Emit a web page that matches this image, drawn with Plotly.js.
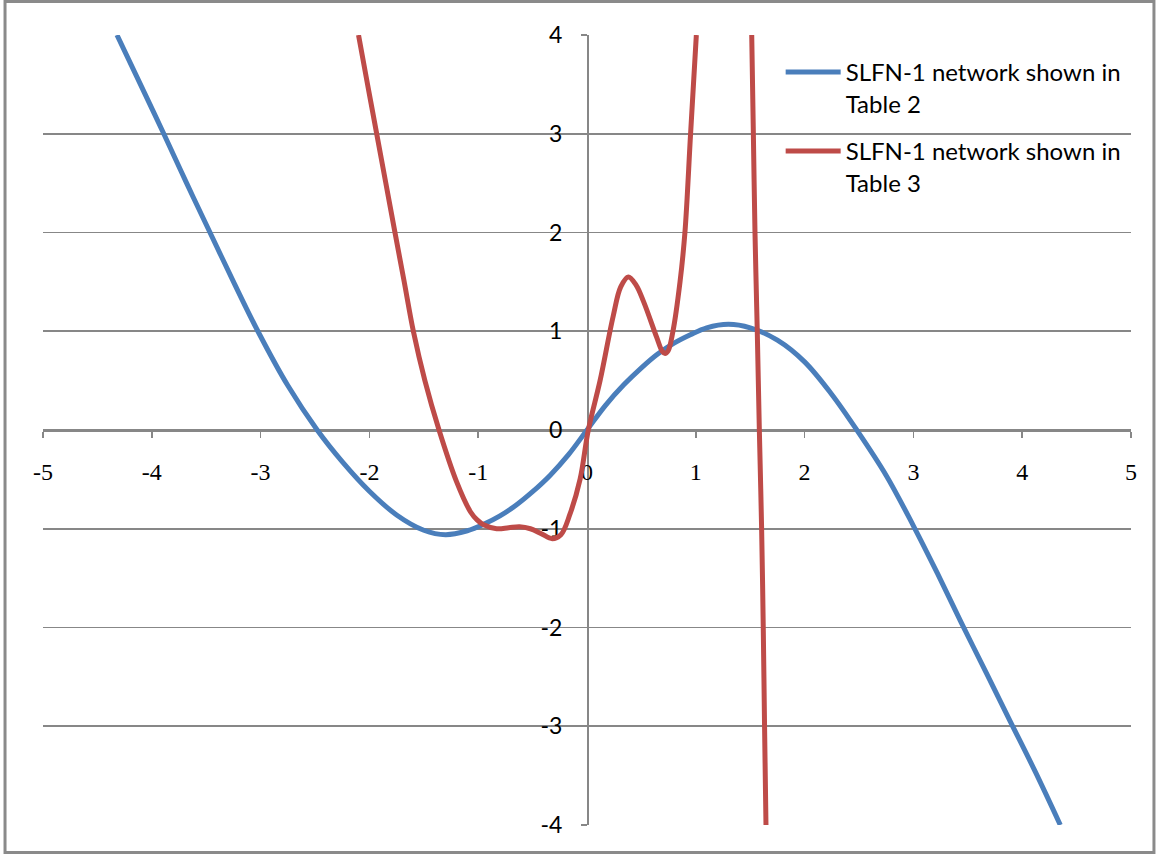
<!DOCTYPE html>
<html>
<head>
<meta charset="utf-8">
<script src="https://cdn.plot.ly/plotly-3.0.1.min.js"></script>
<style>
html,body{margin:0;padding:0;background:#fff;}
#chart{width:1161px;height:856px;}
</style>
</head>
<body>
<div id="chart"></div>
<script>
// Series names (legend)
const seriesNames = [
  "SLFN-1 network shown in<br>Table 2",
  "SLFN-1 network shown in<br>Table 3"
];

// Series 1 (blue)
const blueX = [-4.32, -4.10, -3.89, -3.68, -3.465, -3.24, -3.02, -2.75, -2.48, -2.25, -2.00, -1.75, -1.50, -1.30, -1.10, -0.95, -0.80, -0.65, -0.50, -0.34, -0.17, 0.00,
               0.17, 0.34, 0.50, 0.65, 0.80, 0.95, 1.10, 1.30, 1.50, 1.75, 2.00, 2.25, 2.48, 2.75, 3.00, 3.22, 3.44, 3.67, 3.89, 4.12, 4.35];
const blueY = [4.00, 3.49, 3.00, 2.50, 2.00, 1.48, 0.99, 0.45, 0.00, -0.32, -0.62, -0.86, -1.015, -1.06, -1.02, -0.955, -0.87, -0.76, -0.625, -0.46, -0.25, 0.00,
               0.25, 0.46, 0.63, 0.77, 0.88, 0.965, 1.035, 1.07, 1.035, 0.91, 0.69, 0.36, 0.00, -0.46, -0.97, -1.45, -1.95, -2.46, -2.95, -3.46, -4.00];

// Series 2 (red) (goes above the axis range between the two branches)
const redX = [-2.10, -2.017, -1.933, -1.849, -1.765, -1.68, -1.596, -1.49, -1.36, -1.20, -1.07, -1.01, -0.95, -0.83, -0.72, -0.62, -0.52, -0.42, -0.32, -0.24, -0.156, -0.064, 0.012,
              0.12, 0.24, 0.31, 0.38, 0.45, 0.52, 0.64, 0.69, 0.717, 0.745, 0.79, 0.855, 0.90, 0.952, 1.005, null,
              1.514, 1.529, 1.544, 1.565, 1.584, 1.605, 1.62, 1.632, 1.645];
const redY = [4.00, 3.50, 3.00, 2.50, 2.00, 1.50, 1.00, 0.50, 0.00, -0.52, -0.83, -0.91, -0.96, -1.00, -0.99, -0.98, -1.00, -1.05, -1.10, -1.06, -0.85, -0.50, 0.00,
              0.50, 1.15, 1.45, 1.55, 1.47, 1.30, 0.94, 0.80, 0.775, 0.80, 1.00, 1.50, 2.00, 3.00, 4.00, null,
              4.00, 3.00, 2.00, 1.00, 0.00, -1.00, -2.00, -3.00, -4.00];

// Axis ticks
const xTickVals = [-5, -4, -3, -2, -1, 0, 1, 2, 3, 4, 5];
const xTickText = ["-5", "-4", "-3", "-2", "-1", "0", "1", "2", "3", "4", "5"];
const yTickVals = [-4, -3, -2, -1, 0, 1, 2, 3, 4];
const yTickText = ["-4", "-3", "-2", "-1", "0", "1", "2", "3", "4"];

const axisGray = "#878787";
const legendFont = {family: "Lato, 'Open Sans', sans-serif", size: 24, color: "#000"};

const traces = [
  {
    x: blueX, y: blueY, name: seriesNames[0], type: "scatter", mode: "lines",
    legend: "legend",
    line: {color: "#4A7EBB", width: 5, shape: "spline", smoothing: 1}
  },
  {
    x: redX, y: redY, name: seriesNames[1], type: "scatter", mode: "lines",
    legend: "legend2",
    connectgaps: false,
    line: {color: "#BE4B48", width: 5, shape: "spline", smoothing: 1}
  }
];

const legendBase = {
  xanchor: "left", yanchor: "top",
  bgcolor: "rgba(0,0,0,0)", borderwidth: 0,
  valign: "top", itemwidth: 55, font: legendFont
};

const layout = {
  width: 1161, height: 856,
  margin: {l: 43, r: 30, t: 35, b: 31, pad: 0},
  paper_bgcolor: "#ffffff", plot_bgcolor: "#ffffff",
  showlegend: true,
  legend: Object.assign({}, legendBase, {x: 0.678, y: 0.981}),
  legend2: Object.assign({}, legendBase, {x: 0.678, y: 0.881}),
  xaxis: {
    range: [-5, 5], anchor: "free", position: 0.5,
    tickmode: "array", tickvals: xTickVals, ticktext: xTickText,
    showgrid: false, zeroline: false,
    showline: true, linecolor: axisGray, linewidth: 1.6,
    ticks: "outside", ticklen: 6, tickwidth: 1.6, tickcolor: axisGray,
    tickfont: {family: "'Liberation Serif', 'DejaVu Serif', serif", size: 24, color: "#000"},
    ticklabelstandoff: 14,
    layer: "below traces", fixedrange: true
  },
  yaxis: {
    range: [-4, 4], anchor: "free", position: 0.5,
    tickmode: "array", tickvals: yTickVals, ticktext: yTickText,
    showgrid: true, gridcolor: axisGray, gridwidth: 1.6,
    zeroline: false,
    showline: true, linecolor: axisGray, linewidth: 1.6,
    ticks: "outside", ticklen: 6, tickwidth: 1.6, tickcolor: axisGray,
    tickfont: {family: "Lato, 'Open Sans', sans-serif", size: 23, color: "#000"},
    ticklabelstandoff: 14,
    layer: "below traces", fixedrange: true
  },
  shapes: [
    {
      type: "rect", xref: "paper", yref: "paper",
      x0: -0.0349, x1: 1.0211, y0: -0.0348, y1: 1.0424,
      line: {color: "#8A8A8A", width: 3}, fillcolor: "rgba(0,0,0,0)", layer: "above"
    }
  ]
};

Plotly.newPlot("chart", traces, layout, {displayModeBar: false, staticPlot: true});
</script>
</body>
</html>
